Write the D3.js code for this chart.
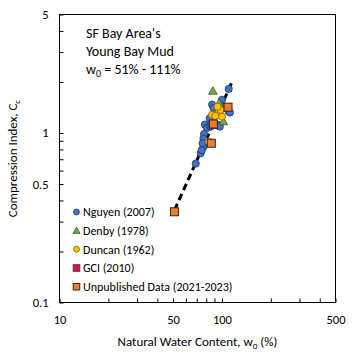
<!DOCTYPE html>
<html><head><meta charset="utf-8">
<script src="https://cdn.jsdelivr.net/npm/d3@7"></script>
<style>body{margin:0;background:#fff}svg{display:block;font-family:Carlito,Lato,"Open Sans",sans-serif}</style>
</head><body><svg id="c" width="360" height="362"></svg>
<script>
// ---- data ----
const nguyenW  = [110, 100, 87, 89, 110, 84, 94, 78.5, 81, 77.5, 77, 77, 74, 69, 97, 85, 76, 103, 112, 75];
const nguyenCc = [1.82, 1.57, 1.47, 1.40, 1.34, 1.22, 1.12, 1.12, 1.07, 0.985, 0.925, 0.83, 0.76, 0.66, 1.09, 1.09, 0.87, 1.43, 1.32, 0.79];
const denbyW   = [88, 96, 102];
const denbyCc  = [1.77, 1.50, 1.17];
const duncanW  = [96, 89, 100, 98, 87, 91, 94, 83];
const duncanCc = [1.34, 1.28, 1.25, 1.37, 1.28, 1.26, 1.43, 0.89];
const gciW     = [88];
const gciCc    = [1.12];
const unpubW   = [109, 88.5, 86, 51];
const unpubCc  = [1.42, 1.13, 0.87, 0.343];
const trendW   = [51, 117];
const trendCc  = [0.35, 2.06];
const xTicks = [10,20,30,40,50,60,70,80,90,100,200,300,400,500];
const xLabels = [10,50,100,500];
const yTicks = [0.1,0.2,0.3,0.4,0.5,0.6,0.7,0.8,0.9,1,2,3,4,5];
const yLabels = [0.1,0.5,1,5];
const legendNames = ["Nguyen (2007)","Denby (1978)","Duncan (1962)","GCI (2010)","Unpublished Data (2021-2023)"];

const svg = d3.select("#c");
const L=59.5, R=335.5, T=14.5, B=302.5;
const x = d3.scaleLog().domain([10,500]).range([L,R]);
const y = d3.scaleLog().domain([0.1,5]).range([B,T]);

// axes
const gx = svg.append("g").attr("transform",`translate(0,${B})`)
  .call(d3.axisBottom(x).tickValues(xTicks).tickSizeInner(-4).tickSizeOuter(0).tickPadding(13)
    .tickFormat(d=>xLabels.includes(d)?String(d):""));
const gy = svg.append("g").attr("transform",`translate(${L},0)`)
  .call(d3.axisLeft(y).tickValues(yTicks).tickSizeInner(-4).tickSizeOuter(0).tickPadding(11)
    .tickFormat(d=>yLabels.includes(d)?String(d):""));
[gx,gy].forEach(g=>{
  g.select(".domain").remove();
  g.selectAll("text").attr("font-family","Carlito,Lato,sans-serif").attr("font-size",12.5).attr("fill","#000");
  g.selectAll("line").attr("stroke","#000");
});
svg.append("rect").attr("x",L).attr("y",T).attr("width",R-L).attr("height",B-T)
  .attr("fill","none").attr("stroke","#000").attr("stroke-width",1);

// axis titles
const xt = svg.append("text").attr("x",(L+R)/2).attr("y",346).attr("text-anchor","middle").attr("font-size",13);
xt.append("tspan").text("Natural Water Content,  w");
xt.append("tspan").attr("font-size",9).attr("dy",3).text("0");
xt.append("tspan").attr("dy",-3).text(" (%)");
const yt = svg.append("text").attr("transform",`translate(17,${(T+B)/2}) rotate(-90)`).attr("text-anchor","middle").attr("font-size",13);
yt.append("tspan").text("Compression Index, C");
yt.append("tspan").attr("font-size",9).attr("dy",3).text("c");

// annotation
const ann = svg.append("g").attr("font-size",14);
ann.append("text").attr("x",86).attr("y",38).text("SF Bay Area's");
ann.append("text").attr("x",86).attr("y",56).text("Young Bay Mud");
const a3 = ann.append("text").attr("x",86).attr("y",74);
a3.append("tspan").text("w");
a3.append("tspan").attr("font-size",10).attr("dy",3).text("0");
a3.append("tspan").attr("dy",-3).text(" = 51% - 111%");

// trend line
svg.append("path").datum(d3.zip(trendW,trendCc))
  .attr("d", d3.line().x(d=>x(d[0])).y(d=>y(d[1])))
  .attr("stroke","#000").attr("stroke-width",3).attr("stroke-dasharray","7,4").attr("fill","none");

// marker drawing
const styles = [
  {shape:"circle", fill:"#4472C4", stroke:"#1F3864"},
  {shape:"triangle", fill:"#70AD47", stroke:"#375623"},
  {shape:"circle", fill:"#FFC000", stroke:"#7F6000"},
  {shape:"square", fill:"#E8112D", stroke:"#5b2a6e"},
  {shape:"square", fill:"#ED7D31", stroke:"#3a2410"}
];
function marker(g, st, cx, cy, k){
  k = k || 1;
  if(st.shape==="circle") g.append("circle").attr("cx",cx).attr("cy",cy).attr("r",3.6*k)
    .attr("fill",st.fill).attr("stroke",st.stroke).attr("stroke-width",0.8);
  else if(st.shape==="square") g.append("rect").attr("x",cx-4*k).attr("y",cy-4*k).attr("width",8*k).attr("height",8*k)
    .attr("fill",st.fill).attr("stroke",st.stroke).attr("stroke-width",1);
  else g.append("path").attr("d",`M${cx},${cy-4.3*k}L${cx+4.3*k},${cy+3.3*k}L${cx-4.3*k},${cy+3.3*k}Z`)
    .attr("fill",st.fill).attr("stroke",st.stroke).attr("stroke-width",0.8);
}
const series = [[nguyenW,nguyenCc],[denbyW,denbyCc],[duncanW,duncanCc],[gciW,gciCc],[unpubW,unpubCc]];
const pg = svg.append("g");
series.forEach((s,i)=>{
  d3.zip(s[0],s[1]).forEach(d=>marker(pg, styles[i], x(d[0]), y(d[1])));
});

// legend
const lg = svg.append("g");
const rowsY = [212,230.7,249.3,268,286.7];
legendNames.forEach((n,i)=>{
  marker(lg, styles[i], 76.5, rowsY[i], 0.82);
  lg.append("text").attr("x",83).attr("y",rowsY[i]).attr("dy","0.35em").attr("font-size",12).text(n);
});
</script></body></html>
